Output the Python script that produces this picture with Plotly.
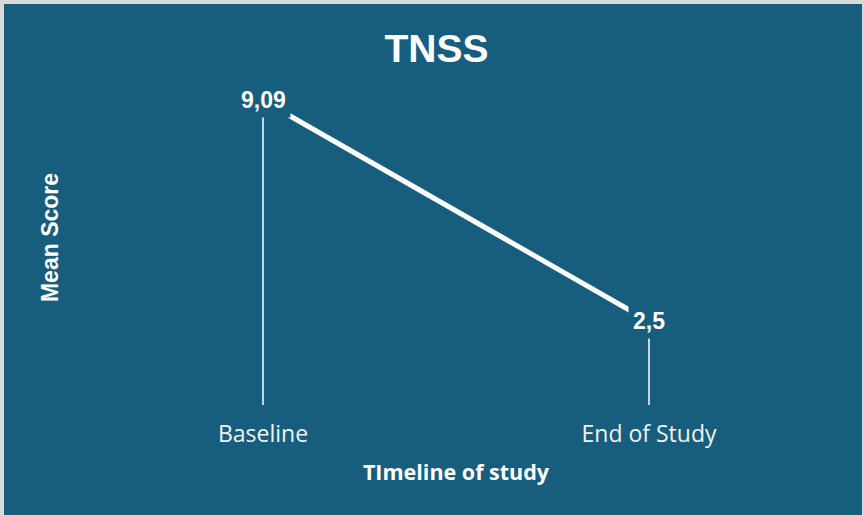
import plotly.graph_objects as go

# Timeline points and mean TNSS scores
timeline = ["Baseline", "End of Study"]
mean_score = [9.09, 2.5]
score_labels = ["9,09", "2,5"]

W, H = 863, 515
BG = "#175E7E"
FRAME = "#D9D9D9"
L, R, T, B = 70, 21, 70, 110
pw, ph = W - L - R, H - T - B


def px_x(p):
    return (p - L) / pw


def px_y(p):
    return (H - B - p) / ph


fig = go.Figure()

# vertical drop lines from each point down to the axis
for cat, val in zip(timeline, mean_score):
    fig.add_trace(go.Scatter(
        x=[cat, cat], y=[0, val], mode="lines",
        line=dict(color="white", width=1.5),
        hoverinfo="skip", showlegend=False,
    ))

# main trend line
fig.add_trace(go.Scatter(
    x=timeline, y=mean_score, mode="lines",
    line=dict(color="white", width=5),
    showlegend=False,
))

# value labels sitting on the points, boxed in the background colour
for cat, val, lab in zip(timeline, mean_score, score_labels):
    fig.add_annotation(
        x=cat, y=val, text=f"<b>{lab}</b>", showarrow=False,
        font=dict(family="Liberation Sans, Arial, sans-serif", size=23, color="white"),
        bgcolor=BG, borderpad=4, xanchor="center", yanchor="middle",
    )

# outer frame: light grey edge with the blue chart area inside
fig.add_shape(
    type="rect", xref="paper", yref="paper", layer="below",
    x0=px_x(4), x1=px_x(862), y0=px_y(515), y1=px_y(4),
    fillcolor=BG, line=dict(width=0),
)

fig.update_layout(
    width=W, height=H,
    margin=dict(l=L, r=R, t=T, b=B, autoexpand=False),
    paper_bgcolor=FRAME,
    plot_bgcolor="rgba(0,0,0,0)",
    title=dict(
        text="<b>TNSS</b>", x=436.5 / W, xanchor="center",
        y=1 - 48 / H, yanchor="middle", yref="container",
        font=dict(family="Liberation Sans, Arial, sans-serif", size=39, color="white"),
    ),
    xaxis=dict(
        type="category", range=[-0.5, 1.5],
        showgrid=False, zeroline=False, showline=False, ticks="",
        tickfont=dict(family="Open Sans, sans-serif", size=23, color="#F2F2F2"),
        ticklabelstandoff=13,
        title=dict(
            text="<b>TImeline of study</b>", standoff=16,
            font=dict(family="Open Sans, sans-serif", size=21.5, color="white"),
        ),
        automargin=False,
    ),
    yaxis=dict(
        range=[0, 10], showgrid=False, zeroline=False, showline=False,
        showticklabels=False, ticks="",
        title=dict(
            text="<b>Mean Score</b>", standoff=3,
            font=dict(family="Liberation Sans, Arial, sans-serif", size=23, color="white"),
        ),
        automargin=False,
    ),
)

fig.write_html("out.html")
